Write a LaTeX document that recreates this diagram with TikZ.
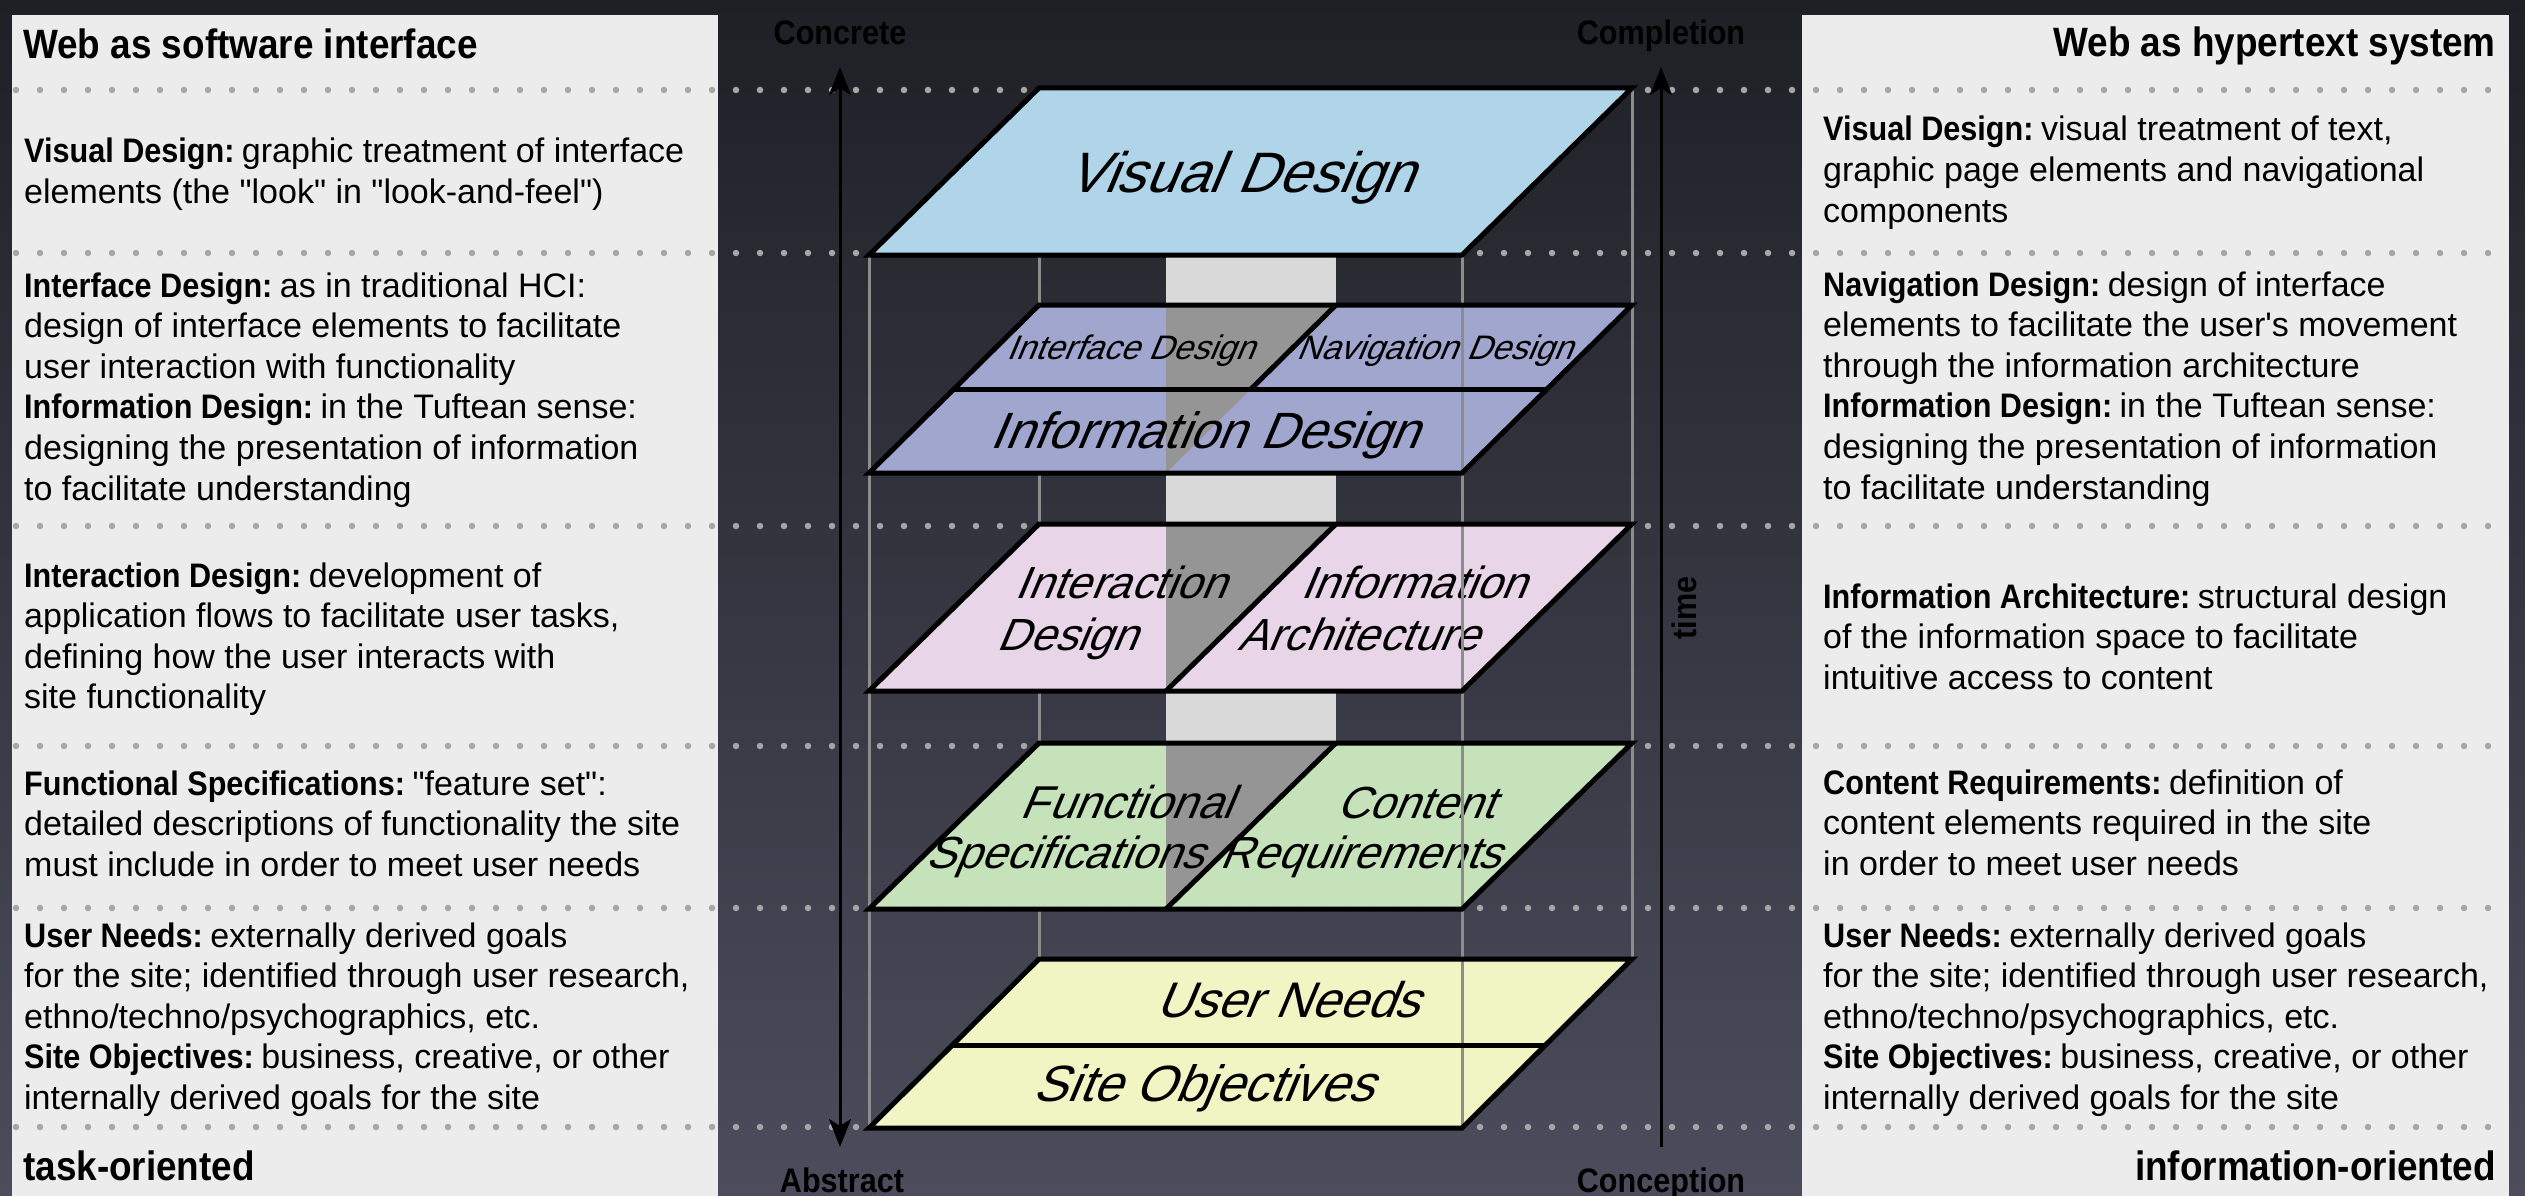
\documentclass[tikz,border=0pt]{standalone}
\usepackage{fontspec}
\setmainfont{Liberation Sans}
\newfontfamily\mybasefont{Liberation Sans}[BoldFeatures={FakeStretch=0.9}]
\newfontfamily\layerfont{Liberation Sans}[FakeSlant=0.42]
\usetikzlibrary{arrows.meta}
\definecolor{bgtop}{HTML}{1F2026}
\definecolor{bgbot}{HTML}{4C4C5C}
\definecolor{panel}{HTML}{ECECEC}
\definecolor{dotc}{HTML}{A6A6A6}
\definecolor{vdblue}{HTML}{B0D5E8}
\definecolor{lav}{HTML}{A0A6CD}
\definecolor{pinkl}{HTML}{E8D6E8}
\definecolor{greenl}{HTML}{C6E2BA}
\definecolor{yell}{HTML}{F1F5C3}
\definecolor{stripc}{HTML}{D9D9D9}
\definecolor{darkstrip}{HTML}{959595}
\definecolor{edgegray}{HTML}{8C8C8C}
\tikzset{
  layerbox/.style={draw=black, line width=5pt, line join=miter},
  dotline/.style={draw=dotc, line width=6.5pt, line cap=round, dash pattern=on 0pt off 24pt},
  boxedge/.style={draw=edgegray, line width=3pt},
  axisline/.style={draw=black, line width=3pt},
  paneltext/.style={anchor=base west, inner sep=0pt, font=\fontsize{34}{40.6}\selectfont},
  paneltitle/.style={inner sep=0pt, font=\fontsize{41}{46}\selectfont\bfseries},
  layerlabel/.style={anchor=base, inner sep=0pt, text=black},
  axislabel/.style={anchor=base, inner sep=0pt, text=black, font=\fontsize{34}{38}\selectfont\bfseries},
}
\newcommand{\bl}[1]{\begin{tabular}[t]{@{}l@{}}#1\end{tabular}}
\newcommand{\hd}[1]{\textbf{#1\hspace{0.22em}}}
\begin{document}
\mybasefont
\begin{tikzpicture}[x=1pt,y=-1pt]
\useasboundingbox (0,0) rectangle (2525,1196);
\shade[top color=bgtop, bottom color=bgbot] (0,0) rectangle (2525,1196);
% side panels
\fill[panel] (12,15) rectangle (718,1196);
\fill[panel] (1802,15) rectangle (2509,1196);
% dotted separators
\foreach \yy in {90,253,526,746,908,1127}{
  \draw[dotline] (16,\yy) -- (2500,\yy);
}
% titles
\node[paneltitle, anchor=base west] (ltitle) at (23,59) {Web as software interface};
\node[paneltitle, anchor=base east] (rtitle) at (2496,57) {Web as hypertext system};
\node[paneltitle, anchor=base west] (lfoot) at (23,1180) {task-oriented};
\node[paneltitle, anchor=base east] (rfoot) at (2496,1180) {information-oriented};
% left panel texts
\node[paneltext] (l1) at (24,163) {\bl{\hd{Visual Design:}graphic treatment of interface\\ elements (the "look" in "look-and-feel")}};
\node[paneltext] (l2) at (24,297) {\bl{\hd{Interface Design:}as in traditional HCI:\\ design of interface elements to facilitate\\ user interaction with functionality\\ \hd{Information Design:}in the Tuftean sense:\\ designing the presentation of information\\ to facilitate understanding}};
\node[paneltext] (l3) at (24,587) {\bl{\hd{Interaction Design:}development of\\ application flows to facilitate user tasks,\\ defining how the user interacts with\\ site functionality}};
\node[paneltext] (l4) at (24,795) {\bl{\hd{Functional Specifications:}"feature set":\\ detailed descriptions of functionality the site\\ must include in order to meet user needs}};
\node[paneltext] (l5) at (24,947) {\bl{\hd{User Needs:}externally derived goals\\ for the site; identified through user research,\\ ethno/techno/psychographics, etc.\\ \hd{Site Objectives:}business, creative, or other\\ internally derived goals for the site}};
% right panel texts
\node[paneltext] (r1) at (1823,141) {\bl{\hd{Visual Design:}visual treatment of text,\\ graphic page elements and navigational\\ components}};
\node[paneltext] (r2) at (1823,296) {\bl{\hd{Navigation Design:}design of interface\\ elements to facilitate the user's movement\\ through the information architecture\\ \hd{Information Design:}in the Tuftean sense:\\ designing the presentation of information\\ to facilitate understanding}};
\node[paneltext] (r3) at (1823,608) {\bl{\hd{Information Architecture:}structural design\\ of the information space to facilitate\\ intuitive access to content}};
\node[paneltext] (r4) at (1823,794) {\bl{\hd{Content Requirements:}definition of\\ content elements required in the site\\ in order to meet user needs}};
\node[paneltext] (r5) at (1823,947) {\bl{\hd{User Needs:}externally derived goals\\ for the site; identified through user research,\\ ethno/techno/psychographics, etc.\\ \hd{Site Objectives:}business, creative, or other\\ internally derived goals for the site}};
% axes
\coordinate (abTop) at (840,67);
\coordinate (abBot) at (840,1147);
\coordinate (tmTop) at (1661,67);
\coordinate (tmBot) at (1661,1147);
\draw[axisline, {Stealth[length=28pt,width=22pt,inset=7pt]}-{Stealth[length=28pt,width=22pt,inset=7pt]}] (abTop) -- (abBot);
\draw[axisline, -{Stealth[length=28pt,width=22pt,inset=7pt]}] (tmBot) -- (tmTop);
\node[axislabel] (concrete) at (840,45) {Concrete};
\node[axislabel] (completion) at (1661,45) {Completion};
\node[axislabel] (abstract) at (842,1192) {Abstract};
\node[axislabel] (conception) at (1661,1192) {Conception};
\node[axislabel, anchor=center, rotate=90] (timelab) at (1684,608) {time};
% strip and back edges
\fill[stripc] (1166,255) rectangle (1336,743);
\draw[boxedge] (1039,88) -- (1039,959);
\draw[boxedge] (1632,88) -- (1632,959);
\draw[boxedge] (869,255) -- (869,1128);
% layer fills
\fill[vdblue] (1039,88) -- (1632,88) -- (1462,255) -- (869,255) -- cycle;
\fill[lav] (1039,305) -- (1632,305) -- (1462,473) -- (869,473) -- cycle;
\fill[darkstrip] (1166,305) -- (1336,305) -- (1166,473) -- cycle;
\fill[pinkl] (1039,524) -- (1632,524) -- (1462,691) -- (869,691) -- cycle;
\fill[darkstrip] (1166,524) -- (1336,524) -- (1166,691) -- cycle;
\fill[greenl] (1039,743) -- (1632,743) -- (1462,909) -- (869,909) -- cycle;
\fill[darkstrip] (1166,743) -- (1336,743) -- (1166,909) -- cycle;
\fill[yell] (1039,959) -- (1632,959) -- (1462,1128) -- (869,1128) -- cycle;
% layer labels
\node[layerlabel, font=\layerfont\fontsize{57}{60}\selectfont] (vd) at (1240,193) {Visual Design};
\node[layerlabel, font=\layerfont\fontsize{34}{38}\selectfont] (ifd) at (1130,359) {Interface Design};
\node[layerlabel, font=\layerfont\fontsize{34}{38}\selectfont] (nvd) at (1434,359) {Navigation Design};
\node[layerlabel, font=\layerfont\fontsize{51}{56}\selectfont] (ind) at (1204,448) {Information Design};
\node[layerlabel, font=\layerfont\fontsize{45}{50}\selectfont] (ixa) at (1120,598) {Interaction};
\node[layerlabel, font=\layerfont\fontsize{45}{50}\selectfont] (ixb) at (1067,650) {Design};
\node[layerlabel, font=\layerfont\fontsize{45}{50}\selectfont] (iaa) at (1413,598) {Information};
\node[layerlabel, font=\layerfont\fontsize{45}{50}\selectfont] (iab) at (1358,650) {Architecture};
\node[layerlabel, font=\layerfont\fontsize{46}{50}\selectfont] (fsa) at (1126,818) {Functional};
\node[layerlabel, font=\layerfont\fontsize{45}{50}\selectfont] (fsb) at (1064,868) {Specifications};
\node[layerlabel, font=\layerfont\fontsize{45}{50}\selectfont] (cra) at (1415,818) {Content};
\node[layerlabel, font=\layerfont\fontsize{45}{50}\selectfont] (crb) at (1360,868) {Requirements};
\node[layerlabel, font=\layerfont\fontsize{50}{54}\selectfont] (un) at (1287,1017) {User Needs};
\node[layerlabel, font=\layerfont\fontsize{51}{54}\selectfont] (so) at (1203,1101) {Site Objectives};
% front edge
\draw[boxedge] (1462,255) -- (1462,1128);
% borders
\draw[layerbox] (1039,88) -- (1632,88) -- (1462,255) -- (869,255) -- cycle;
\draw[layerbox] (1039,305) -- (1632,305) -- (1462,473) -- (869,473) -- cycle;
\draw[layerbox] (954,389) -- (1547,389);
\draw[layerbox] (1336,305) -- (1251,389);
\draw[layerbox] (1039,524) -- (1632,524) -- (1462,691) -- (869,691) -- cycle;
\draw[layerbox] (1336,524) -- (1166,691);
\draw[layerbox] (1039,743) -- (1632,743) -- (1462,909) -- (869,909) -- cycle;
\draw[layerbox] (1336,743) -- (1166,909);
\draw[layerbox] (1039,959) -- (1632,959) -- (1462,1128) -- (869,1128) -- cycle;
\draw[layerbox] (953,1045) -- (1546,1045);
\end{tikzpicture}
\end{document}
